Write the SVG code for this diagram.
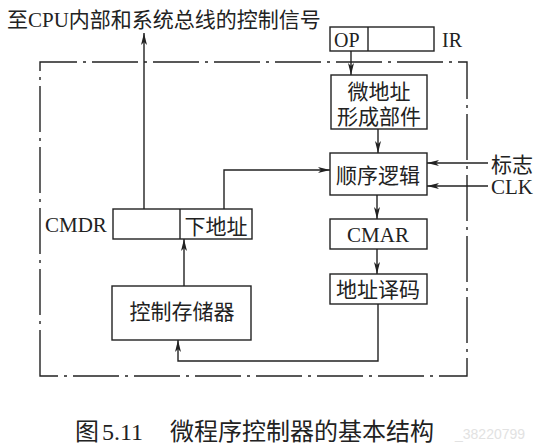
<svg xmlns="http://www.w3.org/2000/svg" width="548" height="446" viewBox="0 0 548 446">
<defs>
<marker id="ah" viewBox="0 0 12 6" refX="12" refY="3" markerWidth="12" markerHeight="6" markerUnits="userSpaceOnUse" orient="auto">
<path d="M0,0 L12,3 L0,6 L3,3 Z" fill="#222"/>
</marker>
<style>
.box{fill:#fff;stroke:#222;stroke-width:1.4}
.ln{fill:none;stroke:#222;stroke-width:1.4}
.bd{fill:none;stroke:#222;stroke-width:1.4;stroke-dasharray:46 6 3 6}
.t{font-family:"Liberation Serif","Noto Sans CJK SC",serif;font-size:21px;fill:#222}
.c{text-anchor:middle}
</style>
</defs>
<rect width="548" height="446" fill="#fff"/>
<g id="border"><path class="bd" d="M40,376 L40,62 L467,62 L467,376 Z"/></g>
<text class="t" x="7" y="27" style="font-size:21px">至CPU内部和系统总线的控制信号</text>
<g id="IR">
<rect class="box" x="330" y="27" width="104" height="24"/>
<line class="ln" x1="368" y1="27" x2="368" y2="51"/>
<text class="t" x="334" y="47" style="font-size:20px">OP</text>
<text class="t" x="442" y="47" style="font-size:20px">IR</text>
</g>
<g id="weidizhi">
<rect class="box" x="331" y="75" width="96" height="54"/>
<text class="t c" x="379" y="99">微地址</text>
<text class="t c" x="379" y="124">形成部件</text>
</g>
<g id="shunxu">
<rect class="box" x="330" y="153" width="97" height="42"/>
<text class="t c" x="378" y="183">顺序逻辑</text>
</g>
<g id="cmar">
<rect class="box" x="330" y="219" width="97" height="30"/>
<text class="t c" x="378" y="242" style="font-size:21px">CMAR</text>
</g>
<g id="decode">
<rect class="box" x="330" y="274" width="97" height="30"/>
<text class="t c" x="378" y="297">地址译码</text>
</g>
<g id="cmdr">
<rect class="box" x="113" y="209" width="139" height="30"/>
<line class="ln" x1="180" y1="209" x2="180" y2="239"/>
<text class="t c" x="216" y="234">下地址</text>
<text class="t" x="45" y="232" style="font-size:21px">CMDR</text>
</g>
<g id="cs">
<rect class="box" x="112" y="286" width="139" height="54"/>
<text class="t c" x="182" y="319">控制存储器</text>
</g>
<g id="inputs">
<text class="t" x="491" y="172">标志</text>
<text class="t" x="491" y="194" style="font-size:21px">CLK</text>
</g>
<g id="connectors">
<line class="ln" x1="144" y1="209" x2="144" y2="33" marker-end="url(#ah)"/>
<line class="ln" x1="351" y1="51" x2="351" y2="75" marker-end="url(#ah)"/>
<line class="ln" x1="378" y1="129" x2="378" y2="153" marker-end="url(#ah)"/>
<polyline class="ln" points="224,209 224,170 330,170" marker-end="url(#ah)"/>
<line class="ln" x1="488" y1="163" x2="427" y2="163" marker-end="url(#ah)"/>
<line class="ln" x1="488" y1="186" x2="427" y2="186" marker-end="url(#ah)"/>
<line class="ln" x1="377" y1="195" x2="377" y2="219" marker-end="url(#ah)"/>
<line class="ln" x1="377" y1="249" x2="377" y2="274" marker-end="url(#ah)"/>
<polyline class="ln" points="378,304 378,361 178,361 178,340" marker-end="url(#ah)"/>
<line class="ln" x1="184" y1="286" x2="184" y2="239" marker-end="url(#ah)"/>
</g>
<g id="caption">
<text class="t" x="75" y="440" style="font-size:24px">图</text>
<text class="t" x="102" y="440" style="font-size:24px">5.11</text>
<text class="t" x="170" y="440" style="font-size:24px">微程序控制器的基本结构</text>
<text x="455" y="439" style="font-family:'Liberation Sans',sans-serif;font-size:14px;fill:#e2e2e2">_38220799</text>
</g>
</svg>
